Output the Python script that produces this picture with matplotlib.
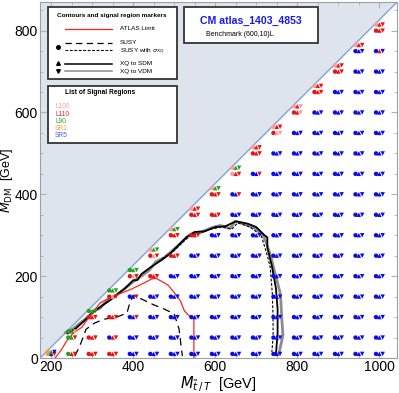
import matplotlib
matplotlib.use("Agg")
import matplotlib.pyplot as plt
from matplotlib.transforms import offset_copy
from matplotlib.patches import FancyBboxPatch
from matplotlib.lines import Line2D

plt.rcParams['font.family'] = ['Liberation Sans', 'DejaVu Sans']
plt.rcParams['mathtext.fontset'] = 'dejavusans'

# ---- data -------------------------------------------------------------
# grid columns (mediator mass) and regular rows (DM mass)
mt_cols = [200, 250, 300, 350, 400, 450, 500, 550, 600, 650, 700, 750,
           800, 850, 900, 950, 1000]
dm_rows = [10, 50, 100, 150, 200, 250, 300, 350, 400, 450, 500, 550, 600,
           650, 700, 750, 800]
# extra point close to the kinematic edge for each column
dm_edge = [15, 65, 115, 165, 215, 265, 315, 365, 415, 465, 515, 565, 615,
           665, 715, 765, 815]

# best signal region per marker: circle / up-triangle / down-triangle
# codes listed from the bottom row upward
sr_regular = [
    "OBR",
    "GRR GGR",
    "RRR RRR RRR",
    "RRR BRR RRR RPR",
    "BBB BBB BBR BBR RPR",
    "BBB BBB BBB BBB RRR RPR",
    "BBB BBB BBB BBB BBB RRR RRR",
    "BBB BBB BBB BBB BBB BBB RRR RRR",
    "BBB BBB BBB BBB BBB BBB BBB RRR RRR",
    "BBB BBB BBB BBB BBB BBB BBB BBB BBR PRR",
    "BBB BBB BBB BBB BBB BBB BBB BBB BBB BBR RRR",
    "BBB BBB BBB BBB BBB BBB BBB BBB BBB BBB BBB RPP",
    "BBB BBB BBB BBB BBB BBB BBB BBB BBB BBB BBB BBB RRP",
    "BBB BBB BBB BBB BBB BBB BBB BBB BBB BBB BBB BBB BBB RRR",
    "BBB BBB BBB BBB BBB BBB BBB BBB BBB BBB BBB BBB BBB BBB RRR",
    "BBB BBB BBB BBB BBB BBB BBB BBB BBB BBB BBB BBB BBB BBB BBB BBB",
    "BBB BBB BBB BBB BBB BBB BBB BBB BBB BBB BBB BBB BBB BBB BBB BRB RRR",
]
sr_edge = ["OGB", "GGO", "GGG", "GGG", "GGG", "PGG", "PGG", "PRR", "PGG",
           "PGG", "PRR", "PRR", "PRP", "PRR", "PRR", "PRR", "PRR"]

sr_names = ['L100', 'L110', 'L90', 'SR1', 'SR5']
sr_colors = {'P': '#ff9a9a', 'R': '#ee1111', 'G': '#22a022',
             'O': '#ff9933', 'B': '#0a0aee'}
sr_text_colors = ['#ff9a9a', '#ee2222', '#33aa33', '#ffa040', '#5555ff']

# exclusion contours (mediator mass, DM mass)
atlas_x = [210, 225, 240, 255, 275, 300, 320, 345, 370, 395, 420, 445, 455,
           470, 485, 500, 515, 525, 540, 548, 548]
atlas_y = [0, 20, 45, 62, 75, 110, 135, 148, 158, 168, 180, 193, 195, 187,
           178, 160, 140, 115, 100, 97, 0]

susy_x = [258, 268, 278, 285, 305, 330, 360, 385, 392, 400, 425, 450, 475,
          500, 512, 518, 520]
susy_y = [5, 25, 50, 70, 85, 95, 100, 110, 135, 153, 142, 130, 120, 108, 70,
          20, 5]

susy_xq_x = [470, 500, 520, 540, 560, 590, 615, 640, 655, 685, 705, 712, 727,
             734, 739, 741, 741, 738]
susy_xq_y = [242, 262, 282, 300, 304, 315, 320, 315, 330, 320, 305, 300, 250,
             222, 160, 100, 50, 15]

sdm_x = [240, 260, 280, 300, 320, 345, 360, 380, 400, 410, 420, 440, 455, 470,
         490, 510, 530, 550, 575, 600, 625, 650, 680, 700, 720, 727, 727, 738,
         748, 752, 752, 748]
sdm_y = [60, 72, 90, 110, 125, 142, 155, 170, 190, 190, 205, 220, 230, 240,
         255, 275, 295, 308, 310, 320, 322, 334, 328, 320, 300, 295, 270, 225,
         170, 120, 60, 10]

vdm_x = [235, 255, 270, 290, 305, 320, 335, 355, 370, 390, 405, 420, 440, 455,
         475, 495, 515, 530, 545, 565, 590, 612, 636, 649, 668, 697, 717, 725,
         735, 745, 758, 760, 762, 765, 755]
vdm_y = [62, 72, 85, 100, 115, 122, 140, 150, 162, 178, 190, 200, 215, 235,
         245, 262, 280, 295, 305, 307, 318, 324, 317, 334, 329, 317, 300, 280,
         250, 210, 160, 140, 100, 55, 10]

x_min, x_max = 173, 1043
y_min, y_max = 0, 870

# ---- figure -----------------------------------------------------------
fig = plt.figure(figsize=(3.99, 3.93), dpi=100)
ax = fig.add_axes([40 / 399, 35 / 393, 357 / 399, 356 / 393])
ax.set_xlim(x_min, x_max)
ax.set_ylim(y_min, y_max)

# forbidden region above the kinematic edge
ax.fill_between([x_min, x_max], [0, x_max - x_min], [y_max, y_max],
                color='#dde4ee', zorder=0)
ax.plot([x_min, x_max], [0, x_max - x_min], color='#7a9ccf', lw=0.8, zorder=1)

# contours
ax.plot(vdm_x, vdm_y, color='#8c8c8c', lw=2.0, zorder=3, solid_joinstyle='round')
ax.plot(sdm_x, sdm_y, color='black', lw=1.3, zorder=4)
ax.plot(susy_x, susy_y, color='black', lw=0.9, dashes=(6, 4), zorder=4)
ax.plot(susy_xq_x, susy_xq_y, color='black', lw=0.8, dashes=(2.5, 1.5), zorder=4)
ax.plot(atlas_x, atlas_y, color='#ff2222', lw=0.9, zorder=4)

# signal region markers: three markers side by side per grid point
shapes = [('o', -2.4, 10), ('^', 0.0, 10), ('v', 2.4, 10)]
pts_x, pts_y, pts_c = [], [], []
for i, mt in enumerate(mt_cols):
    codes = sr_regular[i].split()
    for j, code in enumerate(codes):
        pts_x.append(mt)
        pts_y.append(dm_rows[j])
        pts_c.append(code)
    pts_x.append(mt)
    pts_y.append(dm_edge[i])
    pts_c.append(sr_edge[i])

for k, (mk, dx, size) in enumerate(shapes):
    trans = offset_copy(ax.transData, fig=fig, x=dx, y=0, units='points')
    ax.scatter(pts_x, pts_y, s=size, marker=mk, linewidths=0,
               c=[sr_colors[c[k]] for c in pts_c], transform=trans, zorder=5)

# axes styling
ax.set_xticks([200, 400, 600, 800, 1000])
ax.set_yticks([0, 200, 400, 600, 800])
ax.set_xticks(range(200, 1050, 50), minor=True)
ax.set_yticks(range(0, 870, 50), minor=True)
ax.tick_params(which='both', direction='in', top=True, right=True,
               color='#b0b0b0', labelsize=10, pad=1.5)
ax.tick_params(which='major', length=4)
ax.tick_params(which='minor', length=2)
for sp in ax.spines.values():
    sp.set_color('#a0a0a0')
    sp.set_linewidth(0.8)

ax.set_xlabel(r'$M_{\tilde{t}\,/\,T}$  [GeV]', fontsize=10.5, labelpad=0)
ax.set_ylabel(r'$M_{\rm DM}$  [GeV]', fontsize=9)
ax.yaxis.set_label_coords(-0.071, 0.5)

# ---- legend boxes -----------------------------------------------------
def px(x, y):
    return x / 399, 1 - y / 393

def box(x0, y0, x1, y1):
    a, b = px(x0, y1)
    w, h = (x1 - x0) / 399, (y1 - y0) / 393
    fig.patches.append(FancyBboxPatch((a, b), w, h, boxstyle='square,pad=0',
                                      transform=fig.transFigure, fc='white',
                                      ec='#333333', lw=1.3, zorder=10))

box(48, 7, 177, 79)
fig.text(*px(112, 15), 'Contours and signal region markers', fontsize=4.6,
         fontweight='bold', ha='center', va='center', zorder=11)

def leg_line(y, **kw):
    (a, b), (c, _) = px(65, y), px(112, y)
    fig.lines.append(Line2D([a, c], [b, b], transform=fig.transFigure,
                            zorder=11, **kw))

leg_line(29, color='#ff2222', lw=0.9)
leg_line(43, color='black', lw=0.9, dashes=(5, 3.5))
leg_line(50, color='black', lw=0.8, dashes=(2.5, 1.5))
leg_line(64, color='black', lw=1.1)
leg_line(71, color='#8c8c8c', lw=1.1)
for yy, txt in [(29, 'ATLAS Limit'), (43, 'SUSY'),
                (51, r'SUSY with $\sigma_{\rm XQ}$'),
                (64, 'XQ to SDM'), (71, 'XQ to VDM')]:
    fig.text(*px(120, yy), txt, fontsize=4.6, ha='left', va='center', zorder=11)
for yy, mk in [(47, 'o'), (63, '^'), (71, 'v')]:
    a, b = px(58, yy)
    fig.lines.append(Line2D([a], [b], marker=mk, ms=2.6, color='black', lw=0,
                            transform=fig.transFigure, zorder=11))

box(48, 86, 177, 143)
fig.text(*px(100, 93), 'List of Signal Regions', fontsize=4.8,
         fontweight='bold', ha='center', va='center', zorder=11)
for i, name in enumerate(sr_names):
    fig.text(*px(55, 107 + 7.2 * i), name, fontsize=4.8, color=sr_text_colors[i],
             ha='left', va='center', zorder=11)

box(184, 7, 318, 43)
fig.text(*px(251, 21), 'CM atlas_1403_4853', fontsize=7.6, fontweight='bold',
         color='#1a1aee', ha='center', va='center', zorder=11)
fig.text(*px(240, 35), 'Benchmark (600,10)L', fontsize=5.0, ha='center',
         va='center', zorder=11)

fig.savefig('out.png', dpi=100)
